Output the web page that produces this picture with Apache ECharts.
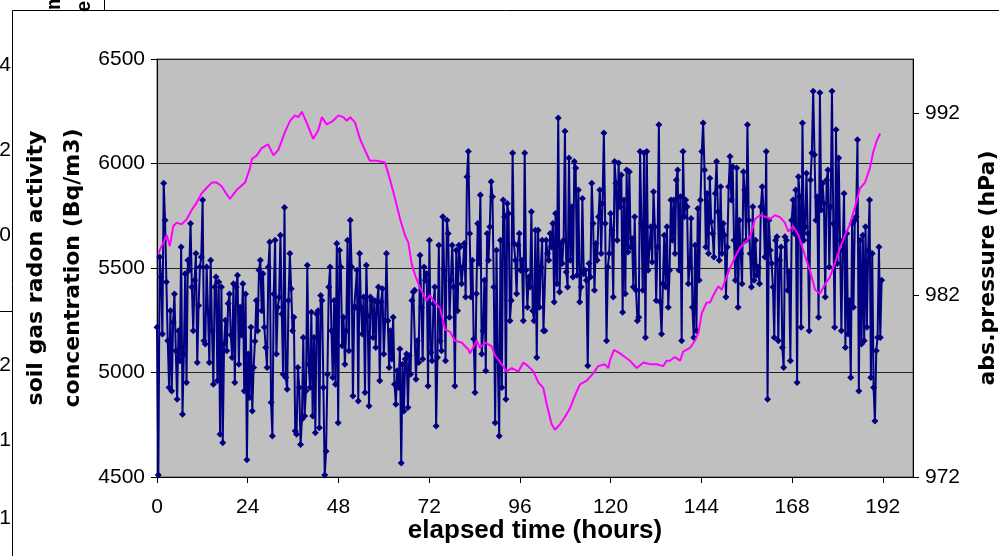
<!DOCTYPE html>
<html>
<head>
<meta charset="utf-8">
<script src="https://cdn.jsdelivr.net/npm/echarts@6/dist/echarts.min.js"></script>
<style>
  html, body { margin: 0; padding: 0; background: #fff; }
  #chart { width: 999px; height: 556px; }
</style>
</head>
<body>
<div id="chart"></div>
<script>
// Soil gas radon (Bq/m3) logged every ~21 minutes, starting at hour 0
const radonStepHours = 0.355;
const radon = [
  5216, 4510, 5553, 5457, 5184, 5905, 5729, 5433, 5152, 4928,
  5296, 4912, 5240, 5376, 5104, 4872, 5200, 5056, 5601, 4800,
  5088, 5473, 4952, 5537, 5489, 5713, 5409, 5200, 5441, 5569,
  5048, 5320, 5505, 5553, 5825, 5152, 5136, 5505, 5290, 5048,
  5537, 5200, 4944, 5409, 5457, 4960, 5433, 4704, 5409, 4664,
  5136, 5250, 5104, 5330, 5376, 5180, 5072, 5425, 4952, 5409,
  5465, 5040, 5312, 5180, 5425, 4912, 5376, 4583, 5088, 4880,
  5216, 4816, 5024, 5150, 5344, 5200, 5489, 5537, 5296, 5473,
  5216, 5120, 5024, 5505, 5625, 4856, 4696, 5376, 5633, 5088,
  5312, 5360, 5657, 5280, 4992,
  5790, 4976, 4920, 5345, 5569, 5401, 5200, 5264, 4720, 4704,
  5024, 4928, 4655, 4776, 5168, 4792, 4912, 5513, 5040, 4928,
  5288, 4792, 5168, 4712, 5280, 5296, 4736, 5369, 5345, 4928,
  4510, 4623, 4992, 5409, 5505, 5200, 4976, 5345, 4944, 5617,
  4760, 5585, 5505, 5128, 5264, 5040, 5200, 5633, 5104, 5729,
  5505, 4888, 5312, 5312, 5489, 4864, 5569, 5312, 5184, 5361,
  4904, 5513, 5272, 4840, 5361, 5345, 5168, 5345, 5120, 5337,
  5409, 4960, 5337, 5401, 5088, 5248, 5569, 5248, 5024, 5200,
  5064, 5264, 4944, 4848, 5008, 4928, 5112, 4567, 5040, 4816,
  5064, 5088, 4832, 5080, 4992, 5345, 5385,
  5393, 4968, 5152, 5048, 5561, 5312, 5064, 5505, 5441, 5473,
  4936, 5633, 5096, 5056, 5329, 5409, 4744, 5072, 5609, 5152,
  5104, 5745, 5489, 5056, 5729, 5665, 5264, 5441, 5609, 5409,
  4936, 5585, 5296, 5609, 5601, 5425, 5505, 5617, 5361, 5937,
  6058, 5665, 5361, 5537, 5160, 4904, 5377, 5713, 5521, 5849,
  5088, 5200, 5441, 5008, 5665, 5537, 5697, 5913, 5841, 5409,
  4760, 5585, 5056, 4696, 5633, 4928, 5825, 5745, 4872, 5809,
  5761, 5248, 5345, 6050, 5617, 5537, 5377, 5609, 5665, 5489,
  5537, 5248, 6050, 5489, 5312, 5457, 5409, 5769, 5296, 5248,
  5681, 5072, 5681, 5312, 5505, 5633, 5200,
  5200, 5633, 5569, 5537, 5665, 5601, 5713, 5337, 5761, 5425,
  6218, 5385, 5617, 5521, 5633, 6154, 5481, 5409, 6026, 5537,
  5793, 5457, 6010, 5978, 5465, 5873, 5337, 5409, 5833, 5473,
  5489, 5441, 5032, 5521, 5457, 5905, 5713, 5393, 5617, 5537,
  5745, 5873, 5569, 5809, 6146, 5713, 5152, 5505, 5569, 5761,
  5681, 5361, 6010, 5905, 5633, 6002, 5793, 5945, 5288, 5825,
  5377, 5969, 5577, 5961, 5601, 5641, 5409, 5745, 5393, 5248,
  5264, 6058, 5713, 5393, 6050, 5168, 6058, 5489, 5601, 5697,
  5529, 5865, 5697, 5345, 5601, 6186, 5337, 5184, 5425, 5657,
  5409, 5697, 5312, 5489, 5825, 5633,
  5825, 5569, 5921, 5969, 5489, 5841, 5152, 6058, 5745, 5825,
  5793, 5425, 5505, 5737, 5312, 5168, 5609, 5200, 5785, 5441,
  5825, 6058, 6194, 5969, 5601, 5857, 5569, 5929, 5721, 5665,
  5553, 5857, 6010, 5769, 5537, 5889, 5569, 5713, 5657, 5361,
  5601, 5889, 6034, 5825, 5985, 5633, 5441, 5978, 5312, 5729,
  5569, 5425, 5961, 5873, 5633, 6186, 5729, 5569, 5409, 5793,
  5441, 5633, 5465, 5505, 5425, 5793, 5889, 5777, 5553, 6058,
  4872, 5729, 5585, 5521, 5409, 5168, 5633, 5649, 5152, 5537,
  5601, 5120, 5024, 5649, 5633, 5393, 5481, 5056, 5729, 5825,
  5665, 5873, 4952, 5937, 5841, 5216, 6194, 5633,
  5697, 5953, 5665, 5200, 5921, 6050, 6346, 6042, 5729, 5841,
  5264, 6338, 5777, 5905, 5809, 5361, 5921, 5969, 5505, 5793,
  6346, 5713, 5216, 6162, 5521, 6026, 5633, 5200, 5585, 5857,
  5120, 5665, 5184, 5345, 4976, 5713, 5312, 5729, 5745, 6114,
  4912, 5633, 5136, 5657, 5152, 5697, 5216, 5585, 5825, 4976,
  5569, 4928, 4768, 5104, 5168, 5601, 5168, 5441
];

// Absolute air pressure (hPa) and the hours it was read at
const pressureHours = [
  0.3, 1.7, 2.6, 3.4, 4.3, 5.2, 6.5, 7.9, 9.2, 10.5,
  11.8, 13.1, 14.5, 15.8, 17.1, 18.0, 19.3, 21.1, 23.3, 24.6,
  25.1, 26.4, 27.7, 29.4, 30.8, 32.1, 33.9, 35.2, 36.5, 37.4,
  38.3, 39.6, 41.3, 42.7, 43.6, 44.0, 44.9, 46.6, 48.0, 49.3,
  50.2, 51.1, 52.4, 53.7, 55.0, 56.3, 58.1, 60.3, 61.6, 63.0,
  64.3, 65.6, 66.5, 67.4, 68.3, 69.6, 71.3, 72.2, 73.5, 74.9,
  76.2, 77.5, 78.8, 80.6, 82.4, 82.8, 84.6, 85.4, 86.8, 88.5,
  89.4, 91.2, 92.5, 93.8, 95.6, 96.9, 98.2, 99.6, 100.9, 102.2,
  103.1, 104.4, 105.3, 106.6, 107.9, 109.3, 110.6, 111.9, 113.7, 115.4,
  116.7, 118.5, 119.4, 119.8, 120.9, 122.5, 123.8, 125.1, 126.9, 128.7,
  130.4, 132.2, 133.9, 134.8, 135.7, 137.0, 138.4, 139.2, 141.0, 142.3,
  143.2, 144.1, 145.4, 146.3, 147.2, 148.5, 149.4, 150.3, 151.6, 152.9,
  154.2, 155.6, 156.9, 158.2, 159.5, 161.3, 162.2, 163.5, 164.8, 166.1,
  167.0, 168.3, 169.7, 171.4, 172.8, 174.1, 175.4, 176.7, 178.0, 179.4,
  180.7, 182.0, 183.3, 184.7, 186.0, 187.3, 188.6, 189.5, 190.4, 191.3
];
const pressureHPa = [
  984.3, 984.9, 985.3, 984.7, 985.8, 986.0, 985.9, 986.2, 986.7, 987.1,
  987.6, 987.9, 988.2, 988.2, 988.0, 987.7, 987.3, 987.8, 988.2, 989.0,
  989.5, 989.7, 990.1, 990.3, 989.7, 990.0, 991.0, 991.6, 991.9, 991.8,
  992.1, 991.5, 990.6, 991.1, 991.8, 991.9, 991.4, 991.6, 991.9, 991.8,
  991.6, 991.8, 991.5, 990.6, 990.0, 989.4, 989.4, 989.3, 988.4, 987.3,
  986.2, 985.3, 984.9, 983.7, 983.1, 982.4, 981.7, 982.0, 981.6, 981.3,
  980.1, 980.0, 979.5, 979.4, 979.0, 978.8, 979.5, 979.1, 979.4, 979.2,
  978.7, 978.2, 977.8, 978.0, 977.8, 978.3, 978.1, 977.8, 977.2, 976.9,
  976.0, 974.9, 974.6, 974.9, 975.3, 975.8, 976.5, 977.1, 977.3, 977.7,
  978.1, 978.2, 978.0, 978.4, 979.0, 978.8, 978.6, 978.4, 978.0, 978.3,
  978.2, 978.2, 978.1, 978.4, 978.4, 978.6, 978.4, 978.9, 979.1, 979.5,
  979.9, 981.0, 981.6, 981.6, 982.0, 982.5, 982.3, 982.8, 983.5, 984.1,
  984.6, 984.9, 985.2, 986.2, 986.4, 986.3, 986.2, 986.4, 986.3, 986.0,
  985.5, 985.8, 985.3, 984.2, 983.3, 982.3, 982.1, 982.6, 983.0, 983.8,
  984.6, 985.3, 985.9, 986.9, 987.9, 988.2, 989.0, 989.9, 990.5, 990.9
];

// Axis tick values
const hourTicks = [0, 24, 48, 72, 96, 120, 144, 168, 192];
const pressureTicks = [972, 982, 992];

// Partial labels from the neighbouring sheet object at the left edge
const edgeDigits = [['4', 65], ['2', 150], ['0', 235], ['2', 365], ['1', 440], ['1', 518]];

const SANS = '"Liberation Sans", Arial, sans-serif';
const WIDE = '"DejaVu Sans", Verdana, sans-serif';

const radonData = radon.map((v, i) => [+(i * radonStepHours).toFixed(3), v]);
const pressureData = pressureHours.map((h, i) => [h, pressureHPa[i]]);

const graphics = [
  { type: 'line', silent: true, shape: { x1: 12.5, y1: 10.5, x2: 999, y2: 10.5 }, style: { stroke: '#000', lineWidth: 1 } },
  { type: 'line', silent: true, shape: { x1: 12.5, y1: 10.5, x2: 12.5, y2: 556 }, style: { stroke: '#000', lineWidth: 1 } },
  { type: 'line', silent: true, shape: { x1: 0, y1: 311.5, x2: 12, y2: 311.5 }, style: { stroke: '#000', lineWidth: 1 } },
  { type: 'line', silent: true, shape: { x1: 104.5, y1: 0, x2: 104.5, y2: 10 }, style: { stroke: '#000', lineWidth: 1 } },
  { type: 'text', silent: true, x: 54, y: 10, rotation: Math.PI / 2,
    style: { text: 'm', font: 'bold 20px ' + SANS, fill: '#000', textAlign: 'left', textVerticalAlign: 'middle' } },
  { type: 'text', silent: true, x: 84, y: 12, rotation: Math.PI / 2,
    style: { text: 'er', font: 'bold 20px ' + SANS, fill: '#000', textAlign: 'left', textVerticalAlign: 'middle' } }
];
edgeDigits.forEach(([t, y]) => {
  graphics.push({ type: 'text', silent: true, x: 11, y: y,
    style: { text: t, font: '21px ' + SANS, fill: '#000', textAlign: 'right', textVerticalAlign: 'middle' } });
});

const plain = (v) => String(v);

const chart = echarts.init(document.getElementById('chart'), null, { renderer: 'canvas' });
chart.setOption({
  animation: false,
  backgroundColor: '#ffffff',
  grid: {
    left: 157, right: 86, top: 59, bottom: 79,
    show: true, backgroundColor: '#C0C0C0', borderColor: '#555', borderWidth: 1,
    containLabel: false, outerBoundsMode: 'none'
  },
  xAxis: {
    type: 'value', min: 0, max: 200, interval: 24,
    name: 'elapsed time (hours)', nameLocation: 'middle', nameGap: 41, nameMoveOverlap: false,
    nameTextStyle: { fontFamily: SANS, fontWeight: 'bold', fontSize: 26, color: '#000' },
    axisLine: { show: true, lineStyle: { color: '#000', width: 1 } },
    axisTick: { show: true, length: 6, inside: false, customValues: hourTicks, lineStyle: { color: '#000' } },
    axisLabel: { customValues: hourTicks, formatter: plain, margin: 20, fontFamily: SANS, fontSize: 21, color: '#000' },
    splitLine: { show: false }
  },
  yAxis: [
    {
      type: 'value', min: 4500, max: 6500, interval: 500, position: 'left',
      name: 'soil gas radon activity\nconcentration (Bq/m3)', nameLocation: 'middle', nameRotate: 90,
      nameGap: 65, nameMoveOverlap: false,
      nameTextStyle: { fontFamily: WIDE, fontWeight: 'bold', fontSize: 22, lineHeight: 37, color: '#000', align: 'center' },
      axisLine: { show: true, lineStyle: { color: '#000', width: 1 } },
      axisTick: { show: true, length: 6, lineStyle: { color: '#000' } },
      axisLabel: { formatter: plain, margin: 12, fontFamily: SANS, fontSize: 21, color: '#000' },
      splitLine: { show: true, lineStyle: { color: '#222', width: 1 } }
    },
    {
      type: 'value', min: 972, max: 995, position: 'right',
      name: 'abs.pressure (hPa)', nameLocation: 'middle', nameRotate: 90, nameGap: 64, nameMoveOverlap: false,
      nameTextStyle: { fontFamily: WIDE, fontWeight: 'bold', fontSize: 22, color: '#000' },
      axisLine: { show: true, lineStyle: { color: '#000', width: 1 } },
      axisTick: { show: true, length: 6, customValues: pressureTicks, lineStyle: { color: '#000' } },
      axisLabel: { customValues: pressureTicks, formatter: plain, margin: 12, fontFamily: SANS, fontSize: 21, color: '#000' },
      splitLine: { show: false }
    }
  ],
  series: [
    {
      name: 'radon', type: 'line', yAxisIndex: 0, data: radonData,
      symbol: 'diamond', symbolSize: 7, showAllSymbol: true,
      itemStyle: { color: '#000080' },
      lineStyle: { color: '#000080', width: 2 },
      z: 2
    },
    {
      name: 'pressure', type: 'line', yAxisIndex: 1, data: pressureData,
      showSymbol: false, symbol: 'none',
      lineStyle: { color: '#FF00FF', width: 2 },
      z: 3
    }
  ],
  graphic: graphics
});
</script>
</body>
</html>
